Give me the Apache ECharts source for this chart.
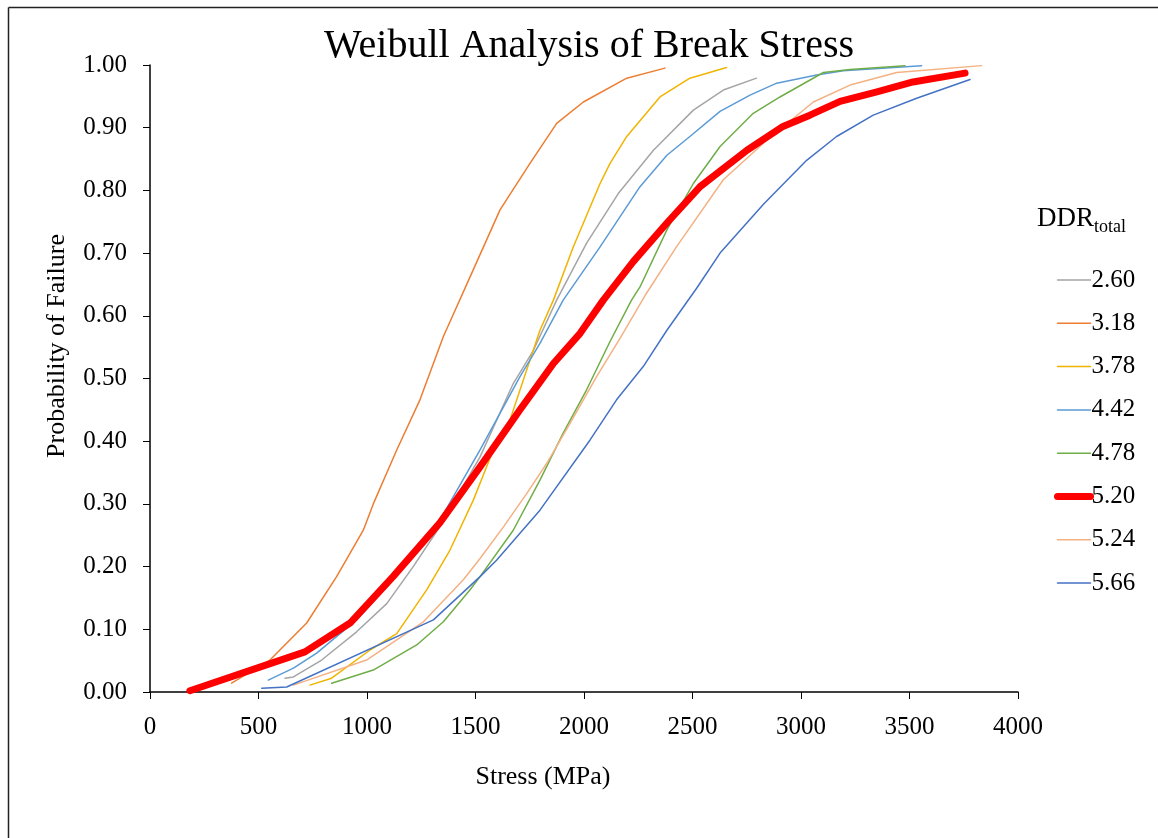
<!DOCTYPE html>
<html>
<head>
<meta charset="utf-8">
<title>Weibull Analysis of Break Stress</title>
<script src="https://cdn.jsdelivr.net/npm/echarts@6/dist/echarts.min.js"></script>
<style>
  html, body { margin: 0; padding: 0; background: #fff; }
  #chart { width: 1158px; height: 838px; }
</style>
</head>
<body>
<div id="chart"></div>
<script>
// [stress (MPa), probability of failure]
const ddr260 = [[622,0.022],[661,0.024],[791,0.051],[952,0.096],[1091,0.141],[1213,0.20],[1336,0.264],[1521,0.375],[1674,0.492],[1767,0.545],[1874,0.625],[2012,0.716],[2158,0.795],[2320,0.864],[2504,0.928],[2642,0.96],[2795,0.979]];
const ddr318 = [[376,0.014],[553,0.051],[722,0.11],[860,0.184],[983,0.258],[1029,0.30],[1137,0.386],[1244,0.466],[1352,0.567],[1475,0.662],[1613,0.769],[1751,0.843],[1874,0.907],[1997,0.941],[2197,0.979],[2373,0.995]];
const ddr378 = [[737,0.011],[837,0.022],[1014,0.067],[1137,0.093],[1275,0.163],[1382,0.226],[1490,0.306],[1582,0.386],[1659,0.434],[1797,0.577],[1859,0.625],[1951,0.71],[2074,0.811],[2120,0.843],[2197,0.886],[2350,0.949],[2488,0.979],[2657,0.996]];
const ddr442 = [[545,0.019],[661,0.038],[768,0.062],[952,0.115],[1121,0.179],[1336,0.274],[1521,0.386],[1705,0.503],[1797,0.556],[1904,0.625],[2074,0.71],[2258,0.806],[2382,0.856],[2488,0.886],[2627,0.926],[2765,0.952],[2888,0.971],[3072,0.984],[3195,0.991],[3556,0.999]];
const ddr478 = [[837,0.014],[1029,0.035],[1229,0.075],[1352,0.112],[1475,0.163],[1521,0.184],[1674,0.258],[1797,0.338],[1904,0.413],[2012,0.482],[2120,0.559],[2219,0.625],[2258,0.646],[2382,0.737],[2504,0.811],[2627,0.87],[2780,0.923],[2903,0.949],[3103,0.988],[3226,0.993],[3479,0.999]];
const ddr520 = [[184,0.002],[714,0.064],[922,0.11],[1120,0.184],[1336,0.27],[1521,0.359],[1705,0.45],[1859,0.524],[1982,0.572],[2089,0.625],[2226,0.686],[2382,0.748],[2535,0.806],[2751,0.864],[2917,0.902],[3041,0.92],[3180,0.942],[3350,0.957],[3516,0.973],[3756,0.987]];
const ddr524 = [[661,0.011],[998,0.051],[1260,0.112],[1444,0.179],[1521,0.213],[1628,0.263],[1735,0.316],[1827,0.364],[1935,0.428],[2058,0.503],[2166,0.564],[2288,0.636],[2426,0.71],[2642,0.817],[2842,0.88],[3057,0.941],[3226,0.968],[3441,0.988],[3832,0.999]];
const ddr566 = [[515,0.006],[630,0.008],[1306,0.115],[1521,0.184],[1597,0.21],[1797,0.29],[2028,0.402],[2150,0.466],[2273,0.519],[2382,0.577],[2519,0.644],[2627,0.70],[2827,0.778],[3026,0.848],[3164,0.886],[3333,0.92],[3533,0.947],[3779,0.977]];

const seriesNames = ['2.60', '3.18', '3.78', '4.42', '4.78', '5.20', '5.24', '5.66'];
const seriesData = [ddr260, ddr318, ddr378, ddr442, ddr478, ddr520, ddr524, ddr566];
const seriesColors = ['#A5A5A5', '#ED7D31', '#F0B400', '#5B9BD5', '#70AD47', '#FF0000', '#F4B183', '#4472C4'];
const boldName = '5.20';

const font = '"Liberation Serif", "Times New Roman", serif';

const chart = echarts.init(document.getElementById('chart'));

const series = seriesNames.map((name, i) => {
  const bold = name === boldName;
  return {
    name,
    type: 'line',
    data: seriesData[i],
    symbol: 'none',
    smooth: false,
    z: bold ? 5 : 2,
    lineStyle: { width: bold ? 7 : 1.5, color: seriesColors[i], cap: 'round', join: 'round' },
    itemStyle: { color: seriesColors[i] },
    emphasis: { disabled: true },
  };
});

// legend entries; the thick one keeps its thick line
const legendData = seriesNames.map((name) =>
  name === boldName
    ? { name, lineStyle: { width: 7, cap: 'round' } }
    : { name, lineStyle: { width: 1.5 } }
);

const option = {
  backgroundColor: '#fff',
  animation: false,
  title: {
    text: 'Weibull Analysis of Break Stress',
    left: 584,
    textAlign: 'center',
    top: 21,
    textStyle: { fontFamily: font, fontSize: 40, fontWeight: 'normal', color: '#000' },
  },
  grid: { left: 150, right: 140, top: 65, bottom: 146 },
  xAxis: {
    type: 'value',
    min: 0,
    max: 4000,
    interval: 500,
    axisLine: { lineStyle: { color: '#000', width: 1.5 } },
    axisTick: { show: true, inside: false, length: 7, lineStyle: { color: '#000' } },
    axisLabel: {
      fontFamily: font, fontSize: 25, color: '#000', margin: 23,
      formatter: (v) => String(v),
    },
    splitLine: { show: false },
  },
  yAxis: {
    type: 'value',
    min: 0,
    max: 1,
    interval: 0.1,
    axisLine: { show: true, lineStyle: { color: '#000', width: 1.5 } },
    axisTick: { show: true, inside: false, length: 7, lineStyle: { color: '#000' } },
    axisLabel: {
      fontFamily: font, fontSize: 25, color: '#000', margin: 23,
      formatter: (v) => v.toFixed(2),
    },
    splitLine: { show: false },
  },
  legend: {
    orient: 'vertical',
    left: 1049,
    top: 262,
    itemWidth: 33,
    itemHeight: 14,
    itemGap: 17.3,
    data: legendData,
    itemStyle: { color: 'rgba(0,0,0,0)', borderWidth: 0, opacity: 0 },
    textStyle: { fontFamily: font, fontSize: 25, color: '#000', lineHeight: 26, padding: [0, 0, 0, -4] },
  },
  graphic: [
    {
      type: 'line',
      shape: { x1: 8.5, y1: 7.5, x2: 1158, y2: 7.5 },
      style: { stroke: '#222', lineWidth: 1.5 },
    },
    {
      type: 'line',
      shape: { x1: 8.5, y1: 7.5, x2: 8.5, y2: 838 },
      style: { stroke: '#222', lineWidth: 1.5 },
    },
    {
      type: 'text',
      left: 1037,
      top: 205,
      style: {
        text: '{a|DDR}{b|total}',
        rich: {
          a: { fontFamily: font, fontSize: 27, fill: '#000', verticalAlign: 'bottom' },
          b: { fontFamily: font, fontSize: 18, fill: '#000', verticalAlign: 'bottom', padding: [0, 0, -4, 0] },
        },
      },
    },
    {
      type: 'text',
      x: 57,
      y: 346,
      rotation: Math.PI / 2,
      style: {
        text: 'Probability of Failure',
        fontFamily: font, fontSize: 26, fill: '#000',
        align: 'center', verticalAlign: 'middle',
      },
    },
    {
      type: 'text',
      x: 543,
      y: 777,
      style: {
        text: 'Stress (MPa)',
        fontFamily: font, fontSize: 26, fill: '#000',
        align: 'center', verticalAlign: 'middle',
      },
    },
  ],
  series,
};

chart.setOption(option);
</script>
</body>
</html>
